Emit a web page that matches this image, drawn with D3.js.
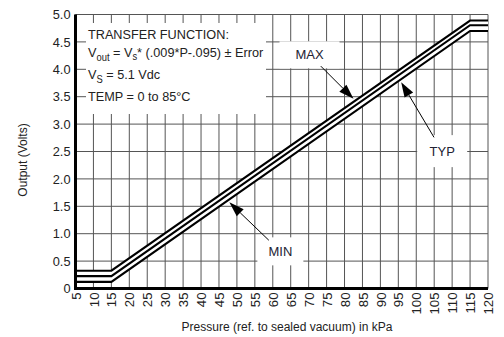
<!DOCTYPE html>
<html>
<head>
<meta charset="utf-8">
<script src="https://cdn.jsdelivr.net/npm/d3@7"></script>
<style>
  html, body { margin: 0; padding: 0; background: #fff; }
  svg { display: block; font-family: "Liberation Sans", Arial, sans-serif; }
</style>
</head>
<body>
<svg id="chart" width="504" height="337"></svg>
<script>
// Breakpoints of the transfer curve (kPa) and the output limits (V)
const pressure = [5, 15, 115, 120];
const minOut = [0.12, 0.12, 4.70, 4.70];
const typOut = [0.225, 0.225, 4.805, 4.805];
const maxOut = [0.325, 0.325, 4.89, 4.89];

const xTicks = d3.range(5, 121, 5);
const yTicks = d3.range(0, 5.01, 0.5);
const yTickLabels = ["0", "0.5", "1.0", "1.5", "2.0", "2.5", "3.0", "3.5", "4.0", "4.5", "5.0"];

// Callouts: label, curve the arrow touches, pressure at the tip, label offset, patch size
const callouts = [
  { label: "MAX", series: "max", p: 82.5, side: -1, dx: -44, dy: -44, w: 60, h: 27 },
  { label: "TYP", series: "min", p: 95.8, side: 1, dx: 41, dy: 69, w: 50, h: 32 },
  { label: "MIN", series: "min", p: 47.9, side: 1, dx: 51, dy: 49, w: 46, h: 28 }
];

const svg = d3.select("#chart");
const x = d3.scaleLinear().domain([5, 120]).range([75.5, 488]);
const y = d3.scaleLinear().domain([0, 5]).range([288.5, 14.5]);

const series = {
  min: pressure.map((p, i) => [p, minOut[i]]),
  typ: pressure.map((p, i) => [p, typOut[i]]),
  max: pressure.map((p, i) => [p, maxOut[i]])
};
const valueAt = (key, p) => {
  const pts = series[key];
  for (let i = 1; i < pts.length; i++) {
    if (p <= pts[i][0]) {
      const t = (p - pts[i - 1][0]) / (pts[i][0] - pts[i - 1][0]);
      return pts[i - 1][1] + t * (pts[i][1] - pts[i - 1][1]);
    }
  }
  return pts[pts.length - 1][1];
};

// Grid
const grid = svg.append("g").attr("stroke", "#555").attr("stroke-width", 1);
grid.selectAll("line.v").data(xTicks).join("line")
  .attr("x1", d => x(d)).attr("x2", d => x(d))
  .attr("y1", y(0)).attr("y2", y(5));
grid.selectAll("line.h").data(yTicks).join("line")
  .attr("x1", x(5)).attr("x2", x(120))
  .attr("y1", d => y(d)).attr("y2", d => y(d));

// White patch behind the transfer-function note
svg.append("rect").attr("fill", "#fff")
  .attr("x", 86).attr("y", 23).attr("width", 180).attr("height", 91);

// Band between the min and max curves, then the three curves
const line = d3.line().x(d => x(d[0])).y(d => y(d[1]));
const band = d3.area()
  .x((d, i) => x(pressure[i]))
  .y0((d, i) => y(minOut[i]))
  .y1((d, i) => y(maxOut[i]));
svg.append("path").datum(pressure).attr("d", band).attr("fill", "#fff");
["min", "typ", "max"].forEach(k => {
  svg.append("path").datum(series[k]).attr("d", line)
    .attr("fill", "none").attr("stroke", "#000").attr("stroke-width", 2.1);
});

// Axes
const xAxis = d3.axisBottom(x).tickValues(xTicks).tickSize(0).tickFormat(d3.format("d"));
const gx = svg.append("g").attr("transform", `translate(0,${y(0)})`).call(xAxis);
gx.select(".domain").remove();
gx.selectAll("text")
  .attr("transform", "rotate(-90)")
  .attr("x", -4).attr("y", 0).attr("dy", "0.35em")
  .attr("text-anchor", "end")
  .attr("font-size", 13.2).attr("fill", "#222")
  .attr("font-family", "Liberation Sans, Arial, sans-serif");

const yAxis = d3.axisLeft(y).tickValues(yTicks).tickSize(0)
  .tickFormat((d, i) => yTickLabels[i]);
const gy = svg.append("g").attr("transform", `translate(${x(5)},0)`).call(yAxis);
gy.select(".domain").remove();
gy.selectAll("text").attr("x", -5).attr("font-size", 12.8).attr("fill", "#222")
  .attr("font-family", "Liberation Sans, Arial, sans-serif");

// Heavy axis lines
svg.append("line").attr("x1", x(5)).attr("x2", x(5)).attr("y1", y(5)).attr("y2", y(0) + 1.5)
  .attr("stroke", "#000").attr("stroke-width", 3);
svg.append("line").attr("x1", x(5) - 1.5).attr("x2", x(120)).attr("y1", y(0)).attr("y2", y(0))
  .attr("stroke", "#000").attr("stroke-width", 3);

// Axis titles
svg.append("text").attr("x", 287).attr("y", 331).attr("text-anchor", "middle")
  .attr("font-size", 12).attr("fill", "#222")
  .text("Pressure (ref. to sealed vacuum) in kPa");
svg.append("text").attr("transform", "translate(27,160) rotate(-90)")
  .attr("text-anchor", "middle").attr("font-size", 12).attr("fill", "#222")
  .text("Output (Volts)");

// Transfer-function note (slightly condensed type)
const note = svg.append("g").attr("font-size", 13.5).attr("fill", "#222")
  .attr("transform", "translate(88,0) scale(0.94,1)");
note.append("text").attr("x", 0).attr("y", 39).text("TRANSFER FUNCTION:");
const t2 = note.append("text").attr("x", 0).attr("y", 57);
t2.append("tspan").text("V");
t2.append("tspan").attr("font-size", 10).attr("dy", 4).text("out");
t2.append("tspan").attr("dy", -4).text(" = V");
t2.append("tspan").attr("font-size", 10).attr("dy", 3).text("s");
t2.append("tspan").attr("dy", -3).text("* (.009*P-.095) \u00b1 Error");
const t3 = note.append("text").attr("x", 0).attr("y", 79);
t3.append("tspan").text("V");
t3.append("tspan").attr("font-size", 10).attr("dy", 4).text("S");
t3.append("tspan").attr("dy", -4).text(" = 5.1 Vdc");
note.append("text").attr("x", 0).attr("y", 101).text("TEMP = 0 to 85\u00b0C");

// Callout labels with arrows
callouts.forEach(c => {
  const tx = x(c.p);
  const ty = y(valueAt(c.series, c.p)) + c.side * 3;
  const lx = tx + c.dx, ly = ty + c.dy;
  svg.append("rect").attr("x", lx - c.w / 2).attr("y", ly - c.h / 2)
    .attr("width", c.w).attr("height", c.h).attr("fill", "#fff");
  svg.append("text").attr("x", lx).attr("y", ly).attr("dy", "0.35em")
    .attr("text-anchor", "middle").attr("font-size", 13).attr("fill", "#223")
    .text(c.label);
  // arrow shaft starts just outside the label
  const ang = Math.atan2(ty - ly, tx - lx);
  const sx = lx + Math.cos(ang) * 16, sy = ly + Math.sin(ang) * 16;
  const headLen = 15, headW = 5;
  const bx = tx - Math.cos(ang) * headLen, by = ty - Math.sin(ang) * headLen;
  svg.append("line").attr("x1", sx).attr("y1", sy).attr("x2", bx).attr("y2", by)
    .attr("stroke", "#000").attr("stroke-width", 1);
  const px = -Math.sin(ang) * headW, py = Math.cos(ang) * headW;
  svg.append("path")
    .attr("d", `M${tx},${ty}L${bx + px},${by + py}L${bx - px},${by - py}Z`)
    .attr("fill", "#000");
});
</script>
</body>
</html>
